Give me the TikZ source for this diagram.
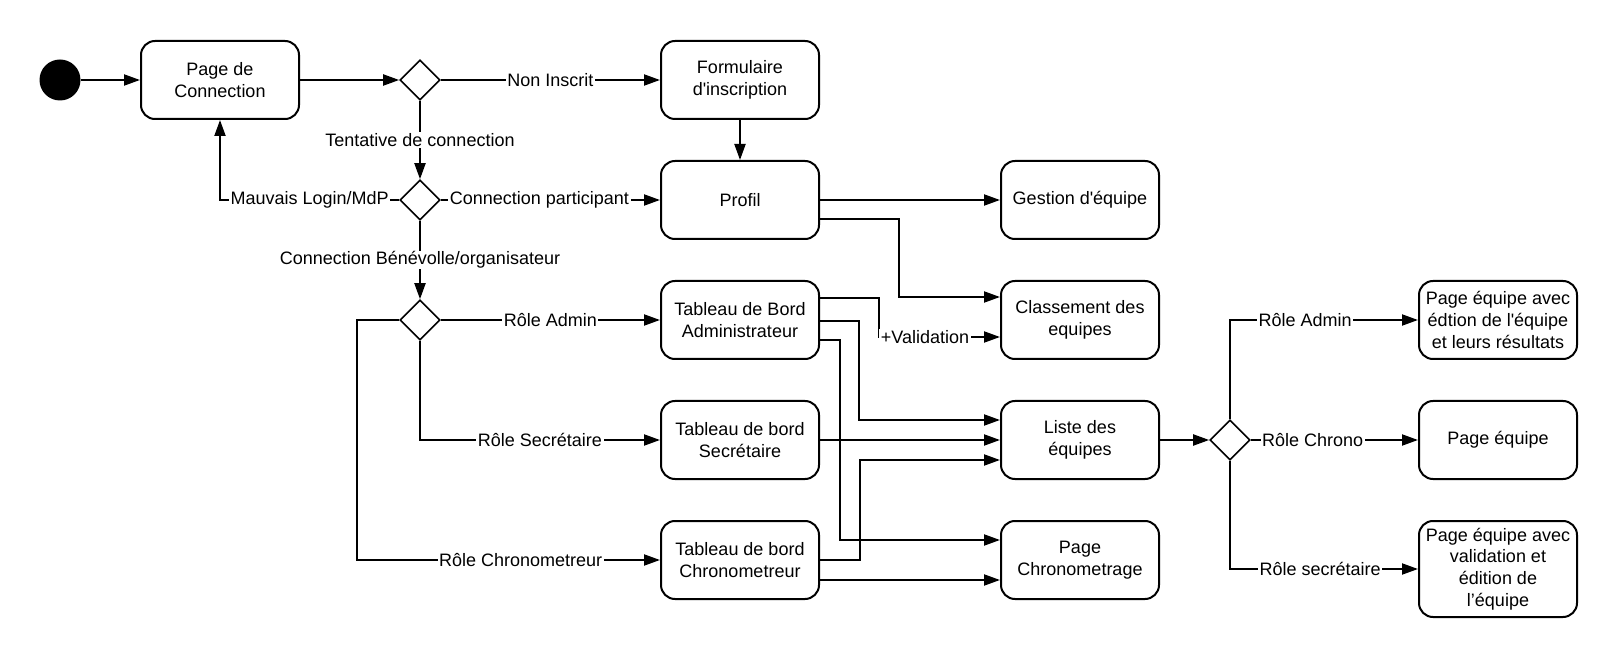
\documentclass[tikz,border=0pt]{standalone}
\usepackage{fontspec}
\newfontfamily\lsans{Liberation Sans}
\usetikzlibrary{shapes.geometric,arrows.meta}
\tikzset{
  txt/.style={font=\lsans\fontsize{18pt}{21.7pt}\selectfont},
  box/.style={txt, draw, line width=2pt, rounded corners=14pt, minimum width=158pt, minimum height=78pt, align=center, inner sep=2pt},
  dec/.style={draw, diamond, line width=1.6pt, minimum width=40pt, minimum height=40pt, inner sep=0pt},
  lbl/.style={txt, fill=white, inner xsep=1.5pt, inner ysep=1pt},
  conn/.style={line width=2pt, -{Triangle[length=16pt,width=11pt]}}
}
\begin{document}
\begin{tikzpicture}[x=1pt,y=-1pt]
\useasboundingbox (0,0) rectangle (1618,660);
% nodes
\node[circle, fill=black, minimum size=41pt, inner sep=0pt] (start) at (60,80) {};
\node[box] (PC) at (220,80) {Page de\\Connection};
\node[dec] (D1) at (420,80) {};
\node[dec] (D2) at (420,200) {};
\node[dec] (D3) at (420,320) {};
\node[box] (FI) at (740,80) {Formulaire\\d'inscription};
\node[box] (PR) at (740,200) {Profil};
\node[box] (TA) at (740,320) {Tableau de Bord\\Administrateur};
\node[box] (TS) at (740,440) {Tableau de bord\\Secrétaire};
\node[box] (TC) at (740,560) {Tableau de bord\\Chronometreur};
\node[box] (GE) at (1080,200) {Gestion d'équipe};
\node[box] (CL) at (1080,320) {Classement des\\equipes};
\node[box] (LI) at (1080,440) {Liste des\\équipes};
\node[box] (PCH) at (1080,560) {Page\\Chronometrage};
\node[dec] (D4) at (1230,440) {};
\node[box] (PE1) at (1498,320) {Page équipe avec\\édtion de l'équipe\\et leurs résultats};
\node[box] (PE2) at (1498,440) {Page équipe};
\node[box, minimum height=96pt] (PE3) at (1498,569) {Page équipe avec\\validation et\\édition de\\l’équipe};
% connectors
\draw[conn] (start.east) -- (PC.west);
\draw[conn] (PC.east) -- (D1.west);
\draw[conn] (D1.east) -- node[lbl]{Non Inscrit} (FI.west);
\draw[conn] (D1.south) -- node[lbl]{Tentative de connection} (D2.north);
\draw[conn] (D2.west) -- node[lbl]{Mauvais Login/MdP} (D2.west -| PC.south) -- (PC.south);
\draw[conn] (D2.east) -- node[lbl,pos=0.45]{Connection participant} (PR.west);
\draw[conn] (FI.south) -- (PR.north);
\draw[conn] (D2.south) -- node[lbl]{Connection Bénévolle/organisateur} (D3.north);
\draw[conn] (D3.east) -- node[lbl]{Rôle Admin} (TA.west);
\draw[conn] (D3.south) |- node[lbl,pos=0.75]{Rôle Secrétaire} (TS.west);
\draw[conn] (D3.west) -- ++(-42,0) |- node[lbl,pos=0.77]{Rôle Chronometreur} (TC.west);
\draw[conn] (PR.east) -- (GE.west);
\draw[conn] ([yshift=-19pt]PR.east) -- ++(79,0) |- ([yshift=23pt]CL.west);
\draw[conn] ([yshift=22pt]TA.east) -- ++(59,0) |- node[lbl,pos=0.69]{+Validation} ([yshift=-17pt]CL.west);
\draw[conn] ([yshift=-1pt]TA.east) -- ++(39,0) |- ([yshift=20pt]LI.west);
\draw[conn] ([yshift=-20pt]TA.east) -- ++(20,0) |- ([yshift=20pt]PCH.west);
\draw[conn] (TS.east) -- (LI.west);
\draw[conn] (TC.east) -- ++(40,0) |- ([yshift=-20pt]LI.west);
\draw[conn] ([yshift=-20pt]TC.east) -- ([yshift=-20pt]PCH.west);
\draw[conn] (LI.east) -- (D4.west);
\draw[conn] (D4.north) |- node[lbl,pos=0.70]{Rôle Admin} (PE1.west);
\draw[conn] (D4.east) -- node[lbl,pos=0.37]{Rôle Chrono} (PE2.west);
\draw[conn] (D4.south) |- node[lbl,pos=0.74]{Rôle secrétaire} (PE3.west);
\end{tikzpicture}
\end{document}
